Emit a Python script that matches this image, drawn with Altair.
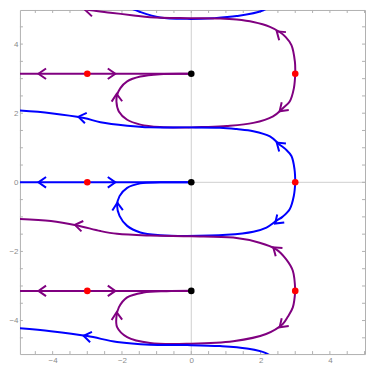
import altair as alt
import pandas as pd

PI = 3.1416
BLUE = "#0000ff"
PURPLE = "#800080"

# ---- trajectories (path order) ----
blue_top_x = [2.46, 2.08, 1.31, 0.64, -0.12, -0.90, -1.47, -1.81, -2.00]
blue_top_y = [5.22, 4.98, 4.81, 4.75, 4.73, 4.77, 4.93, 5.07, 5.22]

purple_top_x = [3.0, 2.99, 2.89, 2.72, 2.55, 2.27, 1.79, 1.31, 0.83, -0.12, -1.19, -1.66, -2.33, -2.90, -3.58, -4.34, -5.0]
purple_top_y = [3.14, 3.49, 3.97, 4.21, 4.35, 4.50, 4.64, 4.71, 4.74, 4.75, 4.78, 4.83, 4.91, 4.98, 5.10, 5.19, 5.22]

purple_loop1_x = [3.0, 2.96, 2.84, 2.65, 2.36, 1.79, 1.02, 0.36, 0.0, -0.90, -1.47, -1.85, -2.09, -2.16, -2.14, -2.05, -1.85, -1.47, -0.90, 0.0]
purple_loop1_y = [3.14, 2.72, 2.34, 2.15, 1.91, 1.72, 1.63, 1.60, 1.59, 1.60, 1.67, 1.81, 2.05, 2.34, 2.53, 2.72, 2.92, 3.06, 3.13, 3.14]

blue_up_x = [3.0, 2.98, 2.89, 2.72, 2.55, 2.27, 1.79, 1.31, 0.83, -0.12, -1.19, -1.85, -2.62, -3.10, -4.05, -5.0]
blue_up_y = [0.0, 0.37, 0.76, 0.96, 1.09, 1.33, 1.48, 1.54, 1.58, 1.59, 1.59, 1.64, 1.74, 1.86, 2.00, 2.08]

blue_loop_x = [3.0, 2.96, 2.84, 2.63, 2.46, 2.17, 1.79, 1.02, -0.12, -0.90, -1.47, -1.85, -2.07, -2.14, -2.07, -1.85, -1.47, -0.90, 0.0]
blue_loop_y = [0.0, -0.39, -0.78, -1.00, -1.11, -1.31, -1.43, -1.52, -1.55, -1.53, -1.45, -1.26, -0.97, -0.68, -0.40, -0.16, -0.03, 0.0, 0.0]

purple_mid_x = [3.0, 2.93, 2.74, 2.45, 1.97, 1.21, 0.0, -1.19, -2.14, -2.62, -3.29, -4.05, -5.0]
purple_mid_y = [-3.14, -2.56, -2.23, -1.94, -1.75, -1.60, -1.56, -1.54, -1.49, -1.41, -1.25, -1.12, -1.06]

purple_loop2_x = [3.0, 2.93, 2.78, 2.64, 2.16, 1.21, 0.0, -1.19, -1.85, -2.14, -2.16, -2.09, -1.85, -1.38, -0.71, 0.0]
purple_loop2_y = [-3.14, -3.62, -3.90, -4.10, -4.39, -4.60, -4.67, -4.65, -4.48, -4.19, -3.90, -3.62, -3.33, -3.19, -3.15, -3.14]

blue_bottom_x = [2.55, 2.17, 1.60, 0.83, -0.12, -1.19, -2.14, -3.0, -4.05, -5.0]
blue_bottom_y = [-5.23, -4.95, -4.81, -4.74, -4.71, -4.70, -4.62, -4.45, -4.31, -4.22]

line_x = [-5.0, 0.0]
line_top_y = [PI, PI]
line_mid_y = [0.0, 0.0]
line_bot_y = [-PI, -PI]

curves = [
    ("blue_top", BLUE, blue_top_x, blue_top_y),
    ("purple_top", PURPLE, purple_top_x, purple_top_y),
    ("purple_loop1", PURPLE, purple_loop1_x, purple_loop1_y),
    ("line_top", PURPLE, line_x, line_top_y),
    ("blue_up", BLUE, blue_up_x, blue_up_y),
    ("blue_loop", BLUE, blue_loop_x, blue_loop_y),
    ("line_mid", BLUE, line_x, line_mid_y),
    ("purple_mid", PURPLE, purple_mid_x, purple_mid_y),
    ("purple_loop2", PURPLE, purple_loop2_x, purple_loop2_y),
    ("line_bot", PURPLE, line_x, line_bot_y),
    ("blue_bottom", BLUE, blue_bottom_x, blue_bottom_y),
]

# ---- arrowheads: position, direction (degrees, counter-clockwise), colour ----
arrow_x = [-2.95, 2.55, 2.63, -2.15, -4.3, -2.3, -3.25, 2.45, 2.63, -2.15, -4.3, -2.3,
           2.55, -3.15, -4.3, -2.3, -2.13, 2.50, -3.0]
arrow_y = [4.97, 4.30, 2.13, 2.45, PI, PI, -1.25, -1.95, -4.12, -3.87, -PI, -PI,
           1.08, 1.88, 0.0, 0.0, -0.70, -1.12, -4.46]
arrow_dir = [171, 140, 222, 92, 180, 0, 170, 140, 222, 92, 180, 0,
             140, 170, 180, 0, 92, 222, 170]
arrow_col = [PURPLE] * 12 + [BLUE] * 7

# ---- fixed points ----
red_x = [-3, 3, -3, 3, -3, 3]
red_y = [PI, PI, 0, 0, -PI, -PI]
black_x = [0, 0, 0]
black_y = [PI, 0, -PI]

# ---- axis ticks ----
x_labels = [-4, -2, 0, 2, 4]
y_labels = [-4, -2, 0, 2, 4]
x_ticks = [-4.5, -4, -3.5, -3, -2.5, -2, -1.5, -1, -0.5, 0, 0.5, 1, 1.5, 2, 2.5, 3, 3.5, 4, 4.5, 5]
y_ticks = [-4.5, -4, -3.5, -3, -2.5, -2, -1.5, -1, -0.5, 0, 0.5, 1, 1.5, 2, 2.5, 3, 3.5, 4, 4.5]

W, H = 347, 346
XDOM = [-4.944, 5.013]
YDOM = [-4.970, 4.987]

rows = []
for name, col, xs_, ys_ in curves:
    for i, (a, b) in enumerate(zip(xs_, ys_)):
        rows.append({"curve": name, "col": col, "i": i, "x": a, "y": b})
df = pd.DataFrame(rows)

arrows = pd.DataFrame({
    "x": arrow_x, "y": arrow_y,
    "rot": [(360 - d) % 360 for d in arrow_dir],
    "col": arrow_col,
})
pts = pd.DataFrame({
    "x": red_x + black_x, "y": red_y + black_y,
    "col": ["#ff0000"] * len(red_x) + ["#000000"] * len(black_x),
})
xt = pd.DataFrame({"v": x_ticks})
yt = pd.DataFrame({"v": y_ticks})

xs = alt.Scale(domain=XDOM, nice=False, zero=False)
ys = alt.Scale(domain=YDOM, nice=False, zero=False)
ax_style = dict(values=x_labels, format="d", ticks=False, domain=False, grid=False,
                labelFontSize=8, labelColor="#8a8a8a", labelFont="Liberation Sans",
                labelPadding=2, title=None)
X = alt.X("x:Q", scale=xs, axis=alt.Axis(**ax_style))
Y = alt.Y("y:Q", scale=ys, axis=alt.Axis(**{**ax_style, "values": y_labels}, minExtent=11, maxExtent=11))

origin_v = alt.Chart(pd.DataFrame({"x": [0]})).mark_rule(color="#cfcfcf", strokeWidth=1).encode(x=alt.X("x:Q", scale=xs))
origin_h = alt.Chart(pd.DataFrame({"y": [0]})).mark_rule(color="#cfcfcf", strokeWidth=1).encode(y=alt.Y("y:Q", scale=ys))

tick_col = "#b0b0b0"
tb = alt.Chart(xt).mark_rule(color=tick_col, strokeWidth=1).encode(
    x=alt.X("v:Q", scale=xs), y=alt.value(H), y2=alt.value(H - 3))
tt = alt.Chart(xt).mark_rule(color=tick_col, strokeWidth=1).encode(
    x=alt.X("v:Q", scale=xs), y=alt.value(0), y2=alt.value(3))
tl = alt.Chart(yt).mark_rule(color=tick_col, strokeWidth=1).encode(
    y=alt.Y("v:Q", scale=ys), x=alt.value(0), x2=alt.value(3))
tr = alt.Chart(yt).mark_rule(color=tick_col, strokeWidth=1).encode(
    y=alt.Y("v:Q", scale=ys), x=alt.value(W), x2=alt.value(W - 3))

lines = alt.Chart(df).mark_line(strokeWidth=2, interpolate="catmull-rom", clip=True).encode(
    x=X, y=Y,
    detail="curve:N",
    order="i:Q",
    color=alt.Color("col:N", scale=None),
)

chev = alt.Chart(arrows).mark_point(
    shape="M -0.72 -1 L 0.72 0 L -0.72 1", filled=False, strokeWidth=2, size=112,
    opacity=1, clip=True,
).encode(
    x=alt.X("x:Q", scale=xs), y=alt.Y("y:Q", scale=ys),
    angle=alt.Angle("rot:Q", scale=None),
    color=alt.Color("col:N", scale=None),
)

dots = alt.Chart(pts).mark_circle(size=44, opacity=1).encode(
    x=alt.X("x:Q", scale=xs), y=alt.Y("y:Q", scale=ys),
    color=alt.Color("col:N", scale=None),
)

chart = alt.layer(origin_v, origin_h, tb, tt, tl, tr, lines, chev, dots).properties(
    width=W, height=H, padding=0, background="white"
).configure_view(stroke="#b0b0b0", strokeWidth=1)

chart.save("out.html", embed_options={"renderer": "svg", "actions": False})
